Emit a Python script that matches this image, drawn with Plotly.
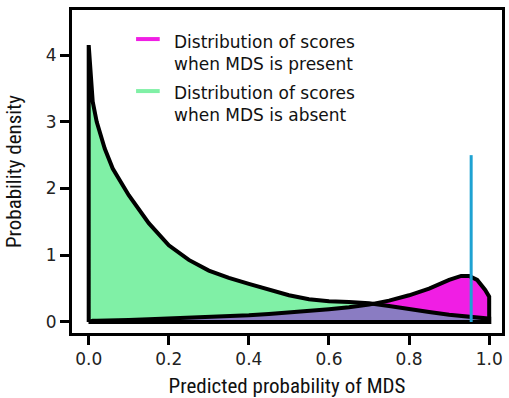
import plotly.graph_objects as go

# ---- data ----
score_grid = [0.0, 0.01, 0.02, 0.04, 0.06, 0.10, 0.15, 0.20, 0.25, 0.30, 0.35, 0.40,
              0.45, 0.50, 0.55, 0.60, 0.65, 0.70, 0.75, 0.80, 0.85, 0.90, 0.93,
              0.95, 0.97, 0.99, 1.0]
density_absent = [4.15, 3.30, 3.00, 2.60, 2.30, 1.90, 1.48, 1.15, 0.93, 0.77, 0.66, 0.57,
                  0.48, 0.40, 0.34, 0.31, 0.30, 0.28, 0.24, 0.19, 0.15, 0.11, 0.09,
                  0.08, 0.07, 0.06, 0.05]
density_present = [0.00, 0.02, 0.02, 0.02, 0.03, 0.03, 0.04, 0.05, 0.06, 0.07, 0.08, 0.10,
                   0.12, 0.14, 0.17, 0.19, 0.22, 0.26, 0.32, 0.40, 0.50, 0.63, 0.69,
                   0.69, 0.63, 0.48, 0.38]
threshold = 0.955
threshold_height = 2.5
x_ticks = [0.0, 0.2, 0.4, 0.6, 0.8, 1.0]
x_tick_labels = ["0.0", "0.2", "0.4", "0.6", "0.8", "1.0"]
y_ticks = [0, 1, 2, 3, 4]
legend_labels = ["Distribution of scores<br>when MDS is present",
                 "Distribution of scores<br>when MDS is absent"]

GREEN = "#80f0a6"
MAGENTA = "#f01ee4"
PURPLE = "#8a7cc2"
BLUE = "#1ea2d2"
FONT = "DejaVu Sans"
NARROW = "Roboto Condensed, Liberation Sans Narrow, Liberation Sans, Arial, sans-serif"


def polygon(xs, ys):
    px = [xs[0]] + list(xs) + [xs[-1], xs[0]]
    py = [0] + list(ys) + [0, 0]
    return px, py


overlap = [min(a, p) for a, p in zip(density_absent, density_present)]

fig = go.Figure()
for ys, col in [(density_absent, GREEN), (density_present, MAGENTA), (overlap, PURPLE)]:
    px, py = polygon(score_grid, ys)
    fig.add_trace(go.Scatter(x=px, y=py, mode="lines", fill="toself", fillcolor=col,
                             line=dict(width=0, color=col), hoverinfo="skip",
                             showlegend=False))
for ys in [density_absent, density_present]:
    px, py = polygon(score_grid, ys)
    fig.add_trace(go.Scatter(x=px, y=py, mode="lines",
                             line=dict(width=4, color="black"),
                             hoverinfo="skip", showlegend=False))
fig.add_trace(go.Scatter(x=[threshold, threshold], y=[0, threshold_height], mode="lines",
                         line=dict(width=3, color=BLUE), showlegend=False))

# legend (drawn manually to match the reference placement)
legend_items = [(MAGENTA, 0.910, 0.866), (GREEN, 0.749, 0.708)]
for (col, ly, ty), label in zip(legend_items, legend_labels):
    fig.add_shape(type="line", xref="paper", yref="paper", x0=0.149, x1=0.204,
                  y0=ly, y1=ly, line=dict(color=col, width=4))
    fig.add_annotation(xref="paper", yref="paper", x=0.232, y=ty, text=label,
                       showarrow=False, xanchor="left", yanchor="middle", align="left",
                       font=dict(family=FONT, size=17, color="#111111"))

axis_common = dict(showline=True, linewidth=3, linecolor="black", mirror=True,
                   ticks="outside", ticklen=9, tickwidth=2.5, tickcolor="black",
                   showgrid=False, zeroline=False,
                   tickfont=dict(family=FONT, size=17, color="#222222"))
fig.update_xaxes(range=[-0.0417, 1.032], tickvals=x_ticks, ticktext=x_tick_labels,
                 title=dict(text="Predicted probability of MDS", standoff=10,
                            font=dict(family=NARROW, size=21, color="#111111")),
                 **axis_common)
fig.update_yaxes(range=[-0.165, 4.675], tickvals=y_ticks,
                 title=dict(text="Probability density", standoff=19,
                            font=dict(family=NARROW, size=21, color="#111111")),
                 **axis_common)
fig.update_layout(width=509, height=398, margin=dict(l=72, r=4, t=10, b=65),
                  plot_bgcolor="white", paper_bgcolor="white")
fig.write_html("out.html")
